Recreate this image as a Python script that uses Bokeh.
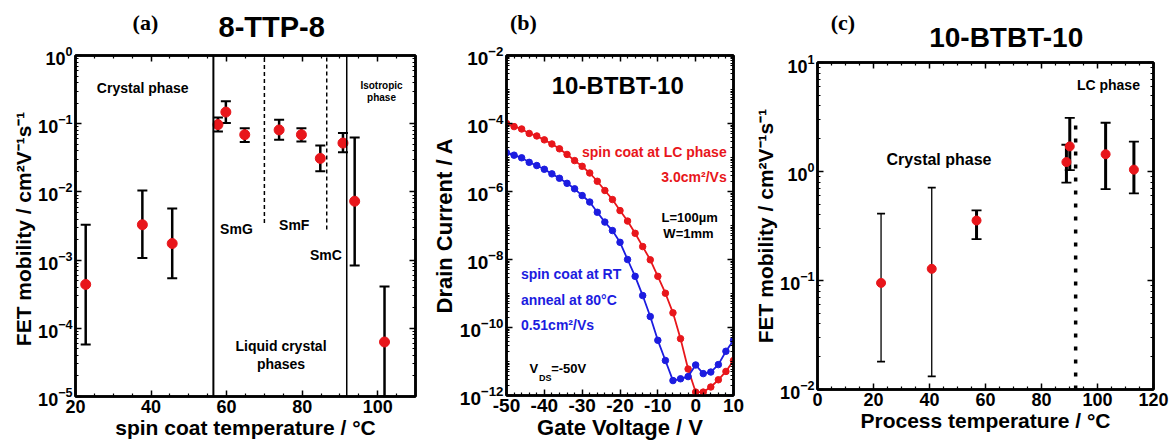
from bokeh.plotting import figure
from bokeh.models import (Range1d, FixedTicker, LogTickFormatter, LinearAxis,
                          Label, ColumnDataSource, Span, CustomJSTickFormatter)
from bokeh.layouts import row, column
from bokeh.embed import file_html
from bokeh.resources import INLINE

# ---------------- data ----------------
# (a) 8-TTP-8
a_temp = [22.7, 37.7, 45.6, 57.7, 59.8, 64.8, 73.9, 79.8, 84.8, 90.8, 93.9, 101.8]
a_mob = [4.4e-4, 3.3e-3, 1.75e-3, 0.097, 0.148, 0.069, 0.081, 0.069, 0.031, 0.052, 0.0073, 6.3e-5]
a_hi = [3.3e-3, 1.05e-2, 5.7e-3, 0.123, 0.214, 0.086, 0.114, 0.086, 0.048, 0.073, 0.063, 4.1e-4]
a_lo = [5.8e-5, 1.07e-3, 5.4e-4, 0.077, 0.102, 0.054, 0.058, 0.055, 0.020, 0.038, 8.3e-4, 1e-5]
a_phase_solid = [56.5, 91.8]
a_phase_dash = [70.0, 86.5]
a_dash_bottom = [3.5e-3, 2.8e-3]

# (b) 10-BTBT-10 transfer curves
b_vg = [-50, -48, -46, -44, -42, -40, -38, -36, -34, -32, -30, -28, -26, -24, -22, -20,
        -18, -16, -14, -12, -10, -8, -6, -4, -2, 0, 2, 4, 6, 8, 10]
b_lc = [1.0e-4, 8.1e-5, 6.9e-5, 5.1e-5, 4.3e-5, 3.3e-5, 2.5e-5, 1.8e-5, 1.23e-5, 8.1e-6,
        5.5e-6, 3.5e-6, 2.0e-6, 1.07e-6, 5.8e-7, 2.75e-7, 1.35e-7, 5.9e-8, 2.4e-8, 9.8e-9,
        3.2e-9, 1.02e-9, 2.7e-10, 4.7e-11, 6.0e-12, 1.26e-12, 1.26e-12, 1.78e-12, 2.9e-12,
        5.1e-12, 1.07e-11]
b_rt = [1.38e-5, 1.17e-5, 9.8e-6, 7.2e-6, 5.8e-6, 4.5e-6, 3.3e-6, 2.45e-6, 1.74e-6, 1.2e-6,
        7.6e-7, 4.9e-7, 2.45e-7, 1.26e-7, 7.1e-8, 3.2e-8, 1.0e-8, 3.2e-9, 8.7e-10, 2.1e-10,
        4.2e-11, 1.07e-11, 2.75e-12, 3.1e-12, 3.6e-12, 7.9e-12, 4.4e-12, 4.9e-12, 8.1e-12,
        2.0e-11, 4.2e-11]

# (c) 10-BTBT-10 mobility vs process temperature
c_temp = [22.7, 40.8, 56.8, 88.9, 90.1, 102.9, 113.0]
c_mob = [0.095, 0.128, 0.355, 1.22, 1.70, 1.44, 1.04]
c_hi = [0.41, 0.71, 0.44, 1.76, 3.1, 2.8, 1.88]
c_lo = [0.018, 0.0132, 0.24, 0.79, 1.03, 0.69, 0.63]
c_lc_boundary = 92.2
c_lc_top = 3.04

# ---------------- styles ----------------
FONT = "Liberation Sans"
SERIF = "Liberation Serif"
RED = "#e8161b"
BLUE = "#1c1ce0"


def decade_ticks(lo_exp, hi_exp):
    major = [10.0 ** e for e in range(lo_exp, hi_exp + 1)]
    minor = []
    for e in range(lo_exp, hi_exp):
        for k in range(2, 10):
            minor.append(k * 10.0 ** e)
    return major, minor


def setup(p, xmaj, xmin, ymaj, ymin, tick_size, label_size, xlabel, ylabel):
    p.xgrid.visible = False
    p.ygrid.visible = False
    p.outline_line_color = "black"
    p.outline_line_width = 2.5
    bottom = p.below[0]
    left = p.left[0]
    xt = FixedTicker(ticks=xmaj, minor_ticks=xmin)
    yt = FixedTicker(ticks=ymaj, minor_ticks=ymin)
    bottom.ticker = xt
    bottom.formatter = CustomJSTickFormatter(code="return tick.toFixed(0)")
    left.ticker = yt
    left.formatter = LogTickFormatter()
    blank = CustomJSTickFormatter(code="return ''")
    top = LinearAxis(ticker=xt, formatter=blank)
    right = LinearAxis(ticker=yt, formatter=blank)
    for ax in (bottom, left, top, right):
        ax.axis_line_width = 2.5
        ax.axis_line_color = "black"
        ax.major_tick_in = 6
        ax.major_tick_out = 0
        ax.minor_tick_in = 3
        ax.minor_tick_out = 0
        ax.major_tick_line_width = 1.5
        ax.minor_tick_line_width = 1.2
        ax.major_tick_line_color = "black"
        ax.minor_tick_line_color = "black"
        ax.major_label_text_font = FONT
        ax.major_label_text_font_style = "bold"
        ax.major_label_text_color = "black"
        ax.major_label_text_font_size = tick_size
        ax.major_label_standoff = 3
        ax.axis_label_text_font = FONT
        ax.axis_label_text_font_style = "bold"
        ax.axis_label_text_font_size = label_size
        ax.axis_label_text_color = "black"
        ax.axis_label_standoff = 0
    for ax in (top, right):
        ax.major_label_text_font_size = "2px"
        ax.major_label_standoff = 0
    p.add_layout(top, "above")
    p.add_layout(right, "right")
    bottom.axis_label = xlabel
    left.axis_label = ylabel


def lab(p, x, y, text, size="14px", color="black", align="center", font=FONT):
    p.add_layout(Label(x=x, y=y, text=text, text_font=font, text_font_style="bold",
                       text_font_size=size, text_color=color, text_align=align,
                       text_baseline="middle"))


def header(width, height):
    h = figure(width=width, height=height, x_range=Range1d(0, width), y_range=Range1d(height, 0),
               output_backend="svg", toolbar_location=None, x_axis_location=None,
               y_axis_location=None, min_border=0, min_border_left=0, min_border_right=0,
               min_border_top=0, min_border_bottom=0, outline_line_color=None)
    h.xgrid.visible = False
    h.ygrid.visible = False
    return h


# ---------------- panel (a) ----------------
ha = header(428, 44)
lab(ha, 88, 22, "(a)", "22px", font=SERIF)
lab(ha, 247, 26, "8-TTP-8", "29px")

pa = figure(width=428, height=404, x_range=Range1d(20, 110), y_range=Range1d(1e-5, 1),
            y_axis_type="log", output_backend="svg", toolbar_location=None,
            min_border_left=75, min_border_right=13, min_border_top=11, min_border_bottom=52)
ymaj, ymin = decade_ticks(-5, 0)
setup(pa, [20, 40, 60, 80, 100],
      [25, 30, 35, 45, 50, 55, 65, 70, 75, 85, 90, 95, 105, 110],
      ymaj, ymin, "18px", "21px",
      "spin coat temperature / \u00b0C", "FET mobility  / cm\u00b2V\u207b\u00b9s\u207b\u00b9")

for i, xs in enumerate(a_phase_solid):
    pa.add_layout(Span(location=xs, dimension="height", line_color="black",
                       line_width=2 if i == 0 else 1.5))
pa.segment(x0=a_phase_dash, y0=a_dash_bottom, x1=a_phase_dash, y1=[1, 1],
           line_color="black", line_width=1.5, line_dash="4 3")

src_a = ColumnDataSource(dict(x=a_temp, y=a_mob, hi=a_hi, lo=a_lo))
pa.segment(x0="x", y0="lo", x1="x", y1="hi", source=src_a, line_color="black", line_width=2.5)
pa.scatter(x="x", y="hi", source=src_a, marker="dash", size=10, line_color="black", line_width=2)
pa.scatter(x="x", y="lo", source=src_a, marker="dash", size=10, line_color="black", line_width=2)
pa.scatter(x="x", y="y", source=src_a, marker="circle", size=10, fill_color=RED, line_color=RED)

lab(pa, 37.8, 10 ** -0.47, "Crystal phase", "14px")
lab(pa, 101.0, 10 ** -0.44, "Isotropic", "10px")
lab(pa, 101.0, 10 ** -0.62, "phase", "10px")
lab(pa, 62.6, 10 ** -2.54, "SmG", "14px")
lab(pa, 77.9, 10 ** -2.48, "SmF", "14px")
lab(pa, 86.3, 10 ** -2.93, "SmC", "14px")
lab(pa, 74.4, 10 ** -4.26, "Liquid crystal", "14px")
lab(pa, 74.4, 10 ** -4.52, "phases", "14px")

# ---------------- panel (b) ----------------
hb = header(323, 44)
lab(hb, 24, 22, "(b)", "22px", font=SERIF)

pb = figure(width=323, height=404, x_range=Range1d(-50, 10), y_range=Range1d(1e-12, 1e-2),
            y_axis_type="log", output_backend="svg", toolbar_location=None,
            min_border_left=67, min_border_right=18, min_border_top=11, min_border_bottom=53)
ymaj_b = [10.0 ** e for e in (-12, -10, -8, -6, -4, -2)]
ymin_b = []
for e in range(-12, -2):
    for k in range(1, 10):
        if not (k == 1 and e % 2 == 0):
            ymin_b.append(k * 10.0 ** e)
setup(pb, [-50, -40, -30, -20, -10, 0, 10],
      [v for v in range(-48, 10, 2) if v % 10 != 0],
      ymaj_b, ymin_b, "19px", "22px",
      "Gate Voltage / V", "Drain Current / A")

pb.line(b_vg, b_lc, line_color=RED, line_width=1.8)
pb.scatter(b_vg, b_lc, marker="circle", size=6.5, fill_color=RED, line_color=RED)
pb.line(b_vg, b_rt, line_color=BLUE, line_width=1.8)
pb.scatter(b_vg, b_rt, marker="circle", size=6.5, fill_color=BLUE, line_color=BLUE)

lab(pb, -20.6, 10 ** -2.88, "10-BTBT-10", "24px")
lab(pb, 8.2, 10 ** -4.84, "spin coat at LC phase", "14px", RED, "right")
lab(pb, 8.2, 10 ** -5.58, "3.0cm\u00b2/Vs", "14px", RED, "right")
lab(pb, -1.6, 10 ** -6.77, "L=100\u00b5m", "13px")
lab(pb, -1.9, 10 ** -7.23, "W=1mm", "13px")
lab(pb, -46.2, 10 ** -8.42, "spin coat at RT", "14px", BLUE, "left")
lab(pb, -46.2, 10 ** -9.18, "anneal at 80\u00b0C", "14px", BLUE, "left")
lab(pb, -46.2, 10 ** -9.94, "0.51cm\u00b2/Vs", "14px", BLUE, "left")
lab(pb, -43.9, 10 ** -11.21, "V", "13px", align="left")
lab(pb, -41.4, 10 ** -11.48, "DS", "9px", align="left")
lab(pb, -38.2, 10 ** -11.21, "=-50V", "13px", align="left")

# ---------------- panel (c) ----------------
hc = header(422, 54)
lab(hc, 32, 22, "(c)", "22px", font=SERIF)
lab(hc, 237, 37, "10-BTBT-10", "28px")

pc = figure(width=422, height=394, x_range=Range1d(0, 120), y_range=Range1d(1e-2, 10),
            y_axis_type="log", output_backend="svg", toolbar_location=None,
            min_border_left=60, min_border_right=20, min_border_top=8, min_border_bottom=59)
ymaj_c, ymin_c = decade_ticks(-2, 1)
setup(pc, [0, 20, 40, 60, 80, 100, 120],
      [v for v in range(5, 120, 5) if v % 20 != 0],
      ymaj_c, ymin_c, "18px", "21px",
      "Process temperature / \u00b0C", "FET mobility / cm\u00b2V\u207b\u00b9s\u207b\u00b9")

pc.segment(x0=[c_lc_boundary], y0=[1e-2], x1=[c_lc_boundary], y1=[c_lc_top],
           line_color="black", line_width=3.5, line_dash="4 9")

thin = [0, 1]
for group, lw, cap in ((thin, 1.3, 8), ([i for i in range(len(c_temp)) if i not in thin], 3, 10)):
    s = ColumnDataSource(dict(x=[c_temp[i] for i in group], hi=[c_hi[i] for i in group],
                              lo=[c_lo[i] for i in group]))
    pc.segment(x0="x", y0="lo", x1="x", y1="hi", source=s, line_color="black", line_width=lw)
    pc.scatter(x="x", y="hi", source=s, marker="dash", size=cap, line_color="black", line_width=1.8)
    pc.scatter(x="x", y="lo", source=s, marker="dash", size=cap, line_color="black", line_width=1.8)
pc.scatter(c_temp, c_mob, marker="circle", size=9, fill_color=RED, line_color=RED)

lab(pc, 43.4, 10 ** 0.107, "Crystal phase", "16px")
lab(pc, 103.9, 10 ** 0.79, "LC phase", "14px")

layout = row(column(ha, pa), column(hb, pb), column(hc, pc))
open("out.html", "w").write(file_html(layout, INLINE))
